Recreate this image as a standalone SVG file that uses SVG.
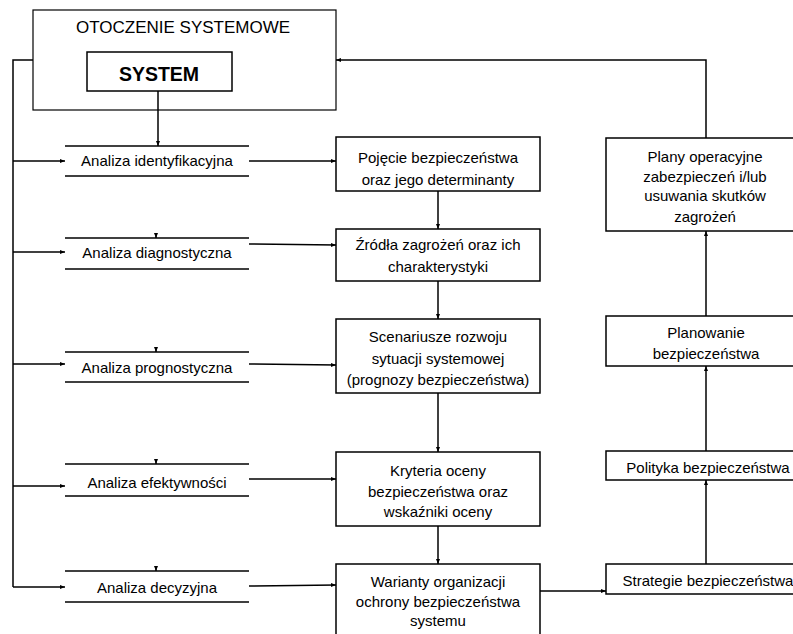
<svg xmlns="http://www.w3.org/2000/svg" width="793" height="634" viewBox="0 0 793 634">
<style>
.t{font-family:"Liberation Sans",Arial,sans-serif;font-size:15px;fill:#000;text-anchor:middle}
.box{fill:#fff;stroke:#000;stroke-width:1.5}
.ln{stroke:#000;stroke-width:1.5;fill:none}
.rl{stroke:#000;stroke-width:1.3}
</style>
<defs>
<marker id="ah" viewBox="0 0 10 10" refX="10" refY="5" markerWidth="5" markerHeight="5" orient="auto" markerUnits="userSpaceOnUse">
<path d="M0,1 L10,5 L0,9 z" fill="#000"/>
</marker>
</defs>
<rect width="793" height="634" fill="#fff"/>
<g id="otoczenie">
<rect x="33" y="10" width="303" height="100" fill="#fff" stroke="#000" stroke-width="1.2"/>
<text class="t" x="183" y="33" style="font-size:17px">OTOCZENIE SYSTEMOWE</text>
</g>
<g id="system">
<rect x="87" y="52" width="145" height="39" class="box"/>
<text class="t" x="159" y="81" style="font-size:19.5px;font-weight:bold">SYSTEM</text>
</g>
<g id="a1">
<line class="rl" x1="65" y1="146" x2="249" y2="146"/><line class="rl" x1="65" y1="176" x2="249" y2="176"/>
<text class="t" x="157" y="166">Analiza identyfikacyjna</text>
</g>
<g id="a2">
<line class="rl" x1="65" y1="238" x2="249" y2="238"/><line class="rl" x1="65" y1="269" x2="249" y2="269"/>
<text class="t" x="157" y="258">Analiza diagnostyczna</text>
</g>
<g id="a3">
<line class="rl" x1="65" y1="352" x2="249" y2="352"/><line class="rl" x1="65" y1="382" x2="249" y2="382"/>
<text class="t" x="157" y="373">Analiza prognostyczna</text>
</g>
<g id="a4">
<line class="rl" x1="65" y1="464" x2="249" y2="464"/><line class="rl" x1="65" y1="496" x2="249" y2="496"/>
<text class="t" x="157" y="488">Analiza efektywności</text>
</g>
<g id="a5">
<line class="rl" x1="65" y1="571" x2="249" y2="571"/><line class="rl" x1="65" y1="602" x2="249" y2="602"/>
<text class="t" x="157" y="593">Analiza decyzyjna</text>
</g>
<g id="m1">
<rect x="336" y="137" width="204" height="54" class="box"/>
<text class="t" x="438" y="163">Pojęcie bezpieczeństwa</text>
<text class="t" x="438" y="185">oraz jego determinanty</text>
</g>
<g id="m2">
<rect x="336" y="229" width="204" height="52" class="box"/>
<text class="t" x="438" y="250">Źródła zagrożeń oraz ich</text>
<text class="t" x="438" y="272">charakterystyki</text>
</g>
<g id="m3">
<rect x="336" y="319" width="204" height="74" class="box"/>
<text class="t" x="438" y="342">Scenariusze rozwoju</text>
<text class="t" x="438" y="364">sytuacji systemowej</text>
<text class="t" x="438" y="385">(prognozy bezpieczeństwa)</text>
</g>
<g id="m4">
<rect x="336" y="452" width="204" height="74" class="box"/>
<text class="t" x="438" y="476">Kryteria oceny</text>
<text class="t" x="438" y="497">bezpieczeństwa oraz</text>
<text class="t" x="438" y="517">wskaźniki oceny</text>
</g>
<g id="m5">
<rect x="336" y="564" width="204" height="80" class="box"/>
<text class="t" x="438" y="587">Warianty organizacji</text>
<text class="t" x="438" y="607">ochrony bezpieczeństwa</text>
<text class="t" x="438" y="626">systemu</text>
</g>
<g id="r1">
<rect x="606" y="138" width="195" height="93" class="box"/>
<text class="t" x="705" y="162">Plany operacyjne</text>
<text class="t" x="705" y="182">zabezpieczeń i/lub</text>
<text class="t" x="705" y="201">usuwania skutków</text>
<text class="t" x="705" y="222">zagrożeń</text>
</g>
<g id="r2">
<rect x="606" y="316" width="195" height="50" class="box"/>
<text class="t" x="706" y="338">Planowanie</text>
<text class="t" x="706" y="359">bezpieczeństwa</text>
</g>
<g id="r3">
<rect x="606" y="451" width="195" height="29" class="box"/>
<text class="t" x="708" y="473">Polityka bezpieczeństwa</text>
</g>
<g id="r4">
<rect x="606" y="564" width="195" height="30" class="box"/>
<text class="t" x="708" y="586">Strategie bezpieczeństwa</text>
</g>
<g id="connectors" class="ln">
<path d="M33,60 H13 V587"/>
<line x1="13" y1="161" x2="65" y2="161" marker-end="url(#ah)"/>
<line x1="13" y1="252" x2="65" y2="252" marker-end="url(#ah)"/>
<line x1="13" y1="364" x2="65" y2="364" marker-end="url(#ah)"/>
<line x1="13" y1="486" x2="65" y2="486" marker-end="url(#ah)"/>
<line x1="13" y1="587" x2="65" y2="587" marker-end="url(#ah)"/>
<line x1="158" y1="91" x2="158" y2="146" marker-end="url(#ah)"/>
<path d="M156,233 L156,238" marker-end="url(#ah)"/>
<path d="M156,347 L156,352" marker-end="url(#ah)"/>
<path d="M156,459 L156,464" marker-end="url(#ah)"/>
<path d="M156,566 L156,571" marker-end="url(#ah)"/>
<line x1="249" y1="161" x2="336" y2="161" marker-end="url(#ah)"/>
<line x1="249" y1="244" x2="336" y2="245" marker-end="url(#ah)"/>
<line x1="249" y1="364" x2="336" y2="365" marker-end="url(#ah)"/>
<line x1="249" y1="479" x2="336" y2="479" marker-end="url(#ah)"/>
<line x1="249" y1="586" x2="336" y2="585" marker-end="url(#ah)"/>
<line x1="438" y1="191" x2="438" y2="229" marker-end="url(#ah)"/>
<line x1="438" y1="281" x2="438" y2="319" marker-end="url(#ah)"/>
<line x1="438" y1="393" x2="438" y2="452" marker-end="url(#ah)"/>
<line x1="438" y1="526" x2="438" y2="564" marker-end="url(#ah)"/>
<line x1="540" y1="591" x2="606" y2="591" marker-end="url(#ah)"/>
<line x1="706" y1="564" x2="706" y2="480" marker-end="url(#ah)"/>
<line x1="706" y1="451" x2="706" y2="366" marker-end="url(#ah)"/>
<line x1="706" y1="316" x2="706" y2="231" marker-end="url(#ah)"/>
<path d="M706,138 V60 H336" marker-end="url(#ah)"/>
</g>
</svg>
